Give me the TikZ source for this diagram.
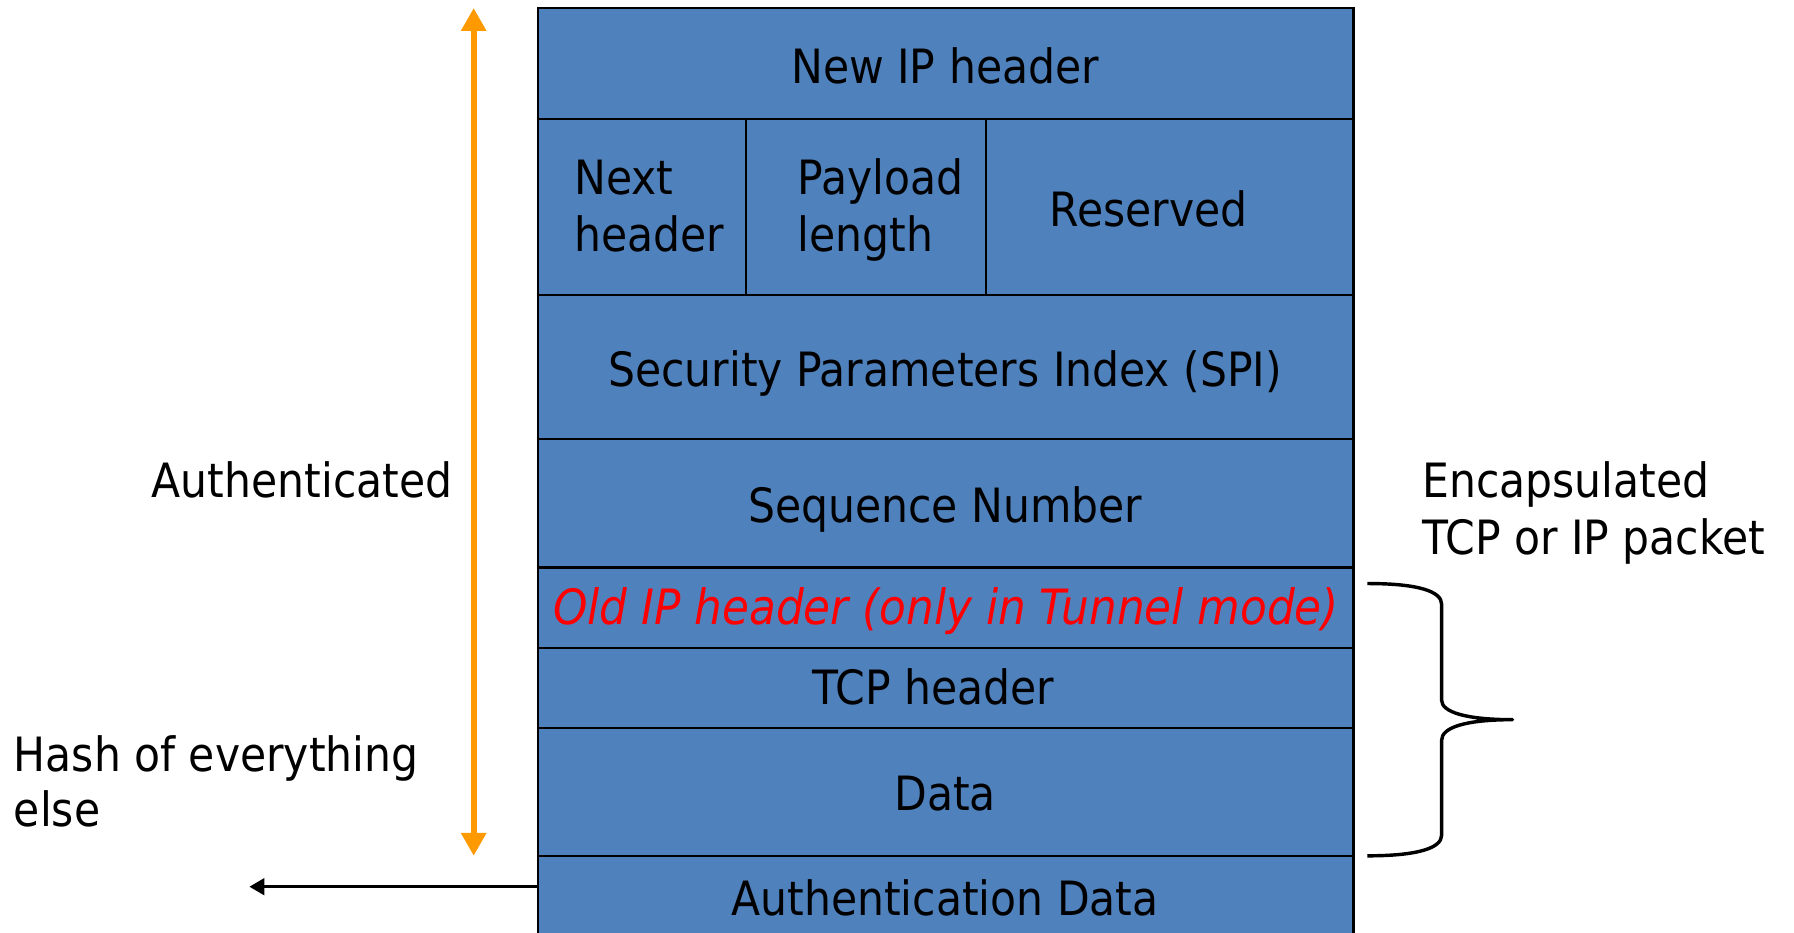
\documentclass[tikz,border=0pt]{standalone}
\usepackage{fontspec}
\setmainfont{DejaVu Sans Condensed}
\usetikzlibrary{arrows.meta}
\definecolor{cellblue}{RGB}{79,129,189}
\definecolor{authorange}{RGB}{255,153,0}
\definecolor{oldred}{RGB}{255,0,0}
\begin{document}
\begin{tikzpicture}[x=1pt,y=-1pt,
  cell/.style={draw=black,line width=1.8pt,fill=cellblue,anchor=north west,
    inner sep=0pt,outer sep=0pt,minimum width=#1},
  cell/.default=713pt,
  lbl/.style={font=\fontsize{41.3}{48}\selectfont,inner sep=0pt,anchor=base},
  lblw/.style={lbl,anchor=base west},
  authline/.style={draw=authorange,line width=5pt,
    {Triangle[width=21pt,length=20pt]}-{Triangle[width=21pt,length=20pt]}},
  hashline/.style={draw=black,line width=2.3pt,-{Triangle[width=14.5pt,length=13pt]}},
  bracestyle/.style={draw=black,line width=3pt,line join=round}]
\useasboundingbox (0,0) rectangle (1568,815);
\clip (0,0) rectangle (1568,815);
% rows
\node[cell,minimum height=97pt]  (r1)  at (470,7)   {};
\node[cell=182pt,minimum height=154pt] (r2a) at (470,104) {};
\node[cell=210pt,minimum height=154pt] (r2b) at (652,104) {};
\node[cell=321pt,minimum height=154pt] (r2c) at (862,104) {};
\node[cell,minimum height=126pt] (r3)  at (470,258) {};
\node[cell,minimum height=112pt] (r4)  at (470,384) {};
\node[cell,minimum height=70pt]  (r5)  at (470,496) {};
\node[cell,minimum height=70pt]  (r6)  at (470,566) {};
\node[cell,minimum height=112pt] (r7)  at (470,636) {};
\node[cell,minimum height=90pt]  (r8)  at (470,748) {};
% texts in the rows
\node[lbl] (t1) at (826,73) {New IP header};
\node[lblw] (t2a) at (502,170) {Next};
\node[lblw] (t2b) at (502,220) {header};
\node[lblw] (t2c) at (697,170) {Payload};
\node[lblw] (t2d) at (697,220) {length};
\node[lbl] (t2e) at (1004,198) {Reserved};
\node[lbl] (t3) at (826,338) {Security Parameters Index (SPI)};
\node[lbl] (t4) at (826,457) {Sequence Number};
\node[lbl,text=oldred,font=\fontsize{42.5}{48}\selectfont\itshape] (t5) at (827,546) {Old IP header (only in Tunnel mode)};
\node[lbl] (t6) at (816,616) {TCP header};
\node[lbl] (t7) at (826,708) {Data};
\node[lbl] (t8) at (826,800) {Authentication Data};
% side labels
\node[lbl] (auth) at (264,435) {Authenticated};
\node[lblw] (enc1) at (1243,435) {Encapsulated};
\node[lblw] (enc2) at (1243,485) {TCP or IP packet};
\node[lblw] (hash1) at (12,674) {Hash of everything};
\node[lblw] (hash2) at (12,722) {else};
% orange arrow
\coordinate (authtop) at (414,7);
\coordinate (authbot) at (414,748);
\draw[authline] (authtop) -- (authbot);
% hash arrow
\coordinate (hashend) at (218,775);
\draw[hashline] ([yshift=-27pt]r8.north west) -- (hashend);
% brace
\coordinate (bracetop) at (1195,510);
\coordinate (bracetip) at (1322,629);
\coordinate (bracebot) at (1195,748);
\draw[bracestyle] (bracetop) .. controls (1240,510) and (1260,517) .. (1260,528)
  -- (1260,612) .. controls (1260,622) and (1280,629) .. (bracetip)
  .. controls (1280,629) and (1260,636) .. (1260,647)
  -- (1260,730) .. controls (1260,741) and (1240,748) .. (bracebot);
\end{tikzpicture}
\end{document}
